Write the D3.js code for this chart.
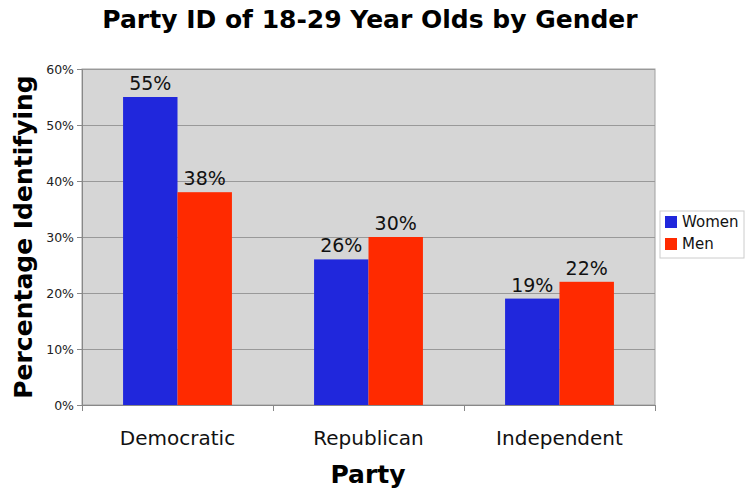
<!DOCTYPE html>
<html>
<head>
<meta charset="utf-8">
<script src="https://cdn.jsdelivr.net/npm/d3@7"></script>
<style>
  body { margin: 0; background: #fff; }
  text { font-family: 'DejaVu Sans', Verdana, sans-serif; }
</style>
</head>
<body>
<div id='chart'></div>
<script>

// Data
const parties = ['Democratic', 'Republican', 'Independent'];
const genders = ['Women', 'Men'];
const women = [55, 26, 19];
const men = [38, 30, 22];
const yTicks = [0, 10, 20, 30, 40, 50, 60];

const colors = {Women: '#2027dc', Men: '#ff2a00'};

// Page Dimensions
const W = 745, H = 492;
const margin = {top: 69, right: 90, bottom: 87, left: 82};
const width = W - margin.left - margin.right;
const height = H - margin.top - margin.bottom;

const svg = d3.select('div#chart').append('svg')
  .attr('width', W)
  .attr('height', H);

const g = svg.append('g')
  .attr('transform', `translate(${margin.left},${margin.top})`);

const x = d3.scaleBand()
  .domain(parties)
  .range([0, width])
  .paddingInner(0.43)
  .paddingOuter(0.215);

const xFull = d3.scaleBand().domain(parties).range([0, width]);

const xSub = d3.scaleBand()
  .domain(genders)
  .range([0, x.bandwidth()]);

const y = d3.scaleLinear().domain([0, 60]).range([height, 0]);

// Plot background
g.append('rect')
  .attr('width', width)
  .attr('height', height)
  .attr('fill', '#d6d6d6')
  .attr('stroke', '#a0a0a0')
  .attr('stroke-width', 1);

// Gridlines
g.append('g')
  .selectAll('line')
  .data(yTicks)
  .enter()
  .append('line')
  .attr('x1', 0)
  .attr('x2', width)
  .attr('y1', d => y(d) + 0.5)
  .attr('y2', d => y(d) + 0.5)
  .style('stroke', '#999')
  .style('stroke-width', 1);

// Bars
const rows = parties.map((p, i) => ({party: p, values: [
  {gender: 'Women', value: women[i]},
  {gender: 'Men', value: men[i]}
]}));

const groups = g.append('g')
  .selectAll('g')
  .data(rows)
  .enter()
  .append('g')
  .attr('transform', d => `translate(${x(d.party)},0)`);

groups.selectAll('rect')
  .data(d => d.values)
  .enter()
  .append('rect')
  .attr('x', d => xSub(d.gender))
  .attr('y', d => y(d.value))
  .attr('width', xSub.bandwidth())
  .attr('height', d => height - y(d.value))
  .attr('fill', d => colors[d.gender]);

groups.selectAll('text')
  .data(d => d.values)
  .enter()
  .append('text')
  .attr('x', d => xSub(d.gender) + xSub.bandwidth() / 2)
  .attr('y', d => y(d.value) - 7)
  .attr('text-anchor', 'middle')
  .attr('font-size', '19px')
  .attr('fill', '#111')
  .text(d => d.value + '%');

// Y axis
const yAxis = g.append('g')
  .call(d3.axisLeft(y).tickValues(yTicks).tickSize(5).tickFormat(d => d + '%'));
yAxis.select('.domain').attr('stroke', '#888');
yAxis.selectAll('.tick line').attr('stroke', '#888');
yAxis.selectAll('.tick text')
  .attr('font-size', '12.5px')
  .attr('fill', '#222')
  .attr('font-family', "'DejaVu Sans', sans-serif");

// X axis
const xAxis = g.append('g')
  .attr('transform', `translate(0,${height})`)
  .call(d3.axisBottom(xFull).tickSize(0).tickSizeOuter(0));
xAxis.select('.domain').attr('stroke', '#888');
xAxis.selectAll('.tick text')
  .attr('font-size', '20px')
  .attr('fill', '#111')
  .attr('dy', '0')
  .attr('y', 40)
  .attr('font-family', "'DejaVu Sans', sans-serif");

// Category separator ticks
g.append('g')
  .selectAll('line')
  .data([...parties.map(p => xFull(p)), width])
  .enter()
  .append('line')
  .attr('x1', d => d + 0.5)
  .attr('x2', d => d + 0.5)
  .attr('y1', height)
  .attr('y2', height + 6)
  .style('stroke', '#888');

// Titles
svg.append('text')
  .attr('x', 370)
  .attr('y', 28)
  .attr('text-anchor', 'middle')
  .attr('font-size', '25px')
  .attr('font-weight', 'bold')
  .text('Party ID of 18-29 Year Olds by Gender');

svg.append('text')
  .attr('x', 368)
  .attr('y', 483)
  .attr('text-anchor', 'middle')
  .attr('font-size', '25px')
  .attr('font-weight', 'bold')
  .text('Party');

svg.append('text')
  .attr('transform', `translate(32,${margin.top + height / 2}) rotate(-90)`)
  .attr('text-anchor', 'middle')
  .attr('font-size', '25px')
  .attr('font-weight', 'bold')
  .text('Percentage Identifying');

// Legend
const legend = svg.append('g')
  .attr('transform', 'translate(660,211)');

legend.append('rect')
  .attr('width', 84)
  .attr('height', 47)
  .attr('fill', '#fff')
  .attr('stroke', '#ccc');

const items = legend.selectAll('g')
  .data(genders)
  .enter()
  .append('g')
  .attr('transform', (d, i) => `translate(5,${5 + i * 22})`);

items.append('rect')
  .attr('width', 12)
  .attr('height', 12)
  .attr('fill', d => colors[d]);

items.append('text')
  .attr('x', 17)
  .attr('y', 11)
  .attr('font-size', '15px')
  .attr('fill', '#111')
  .text(d => d);

</script>
</body>
</html>
